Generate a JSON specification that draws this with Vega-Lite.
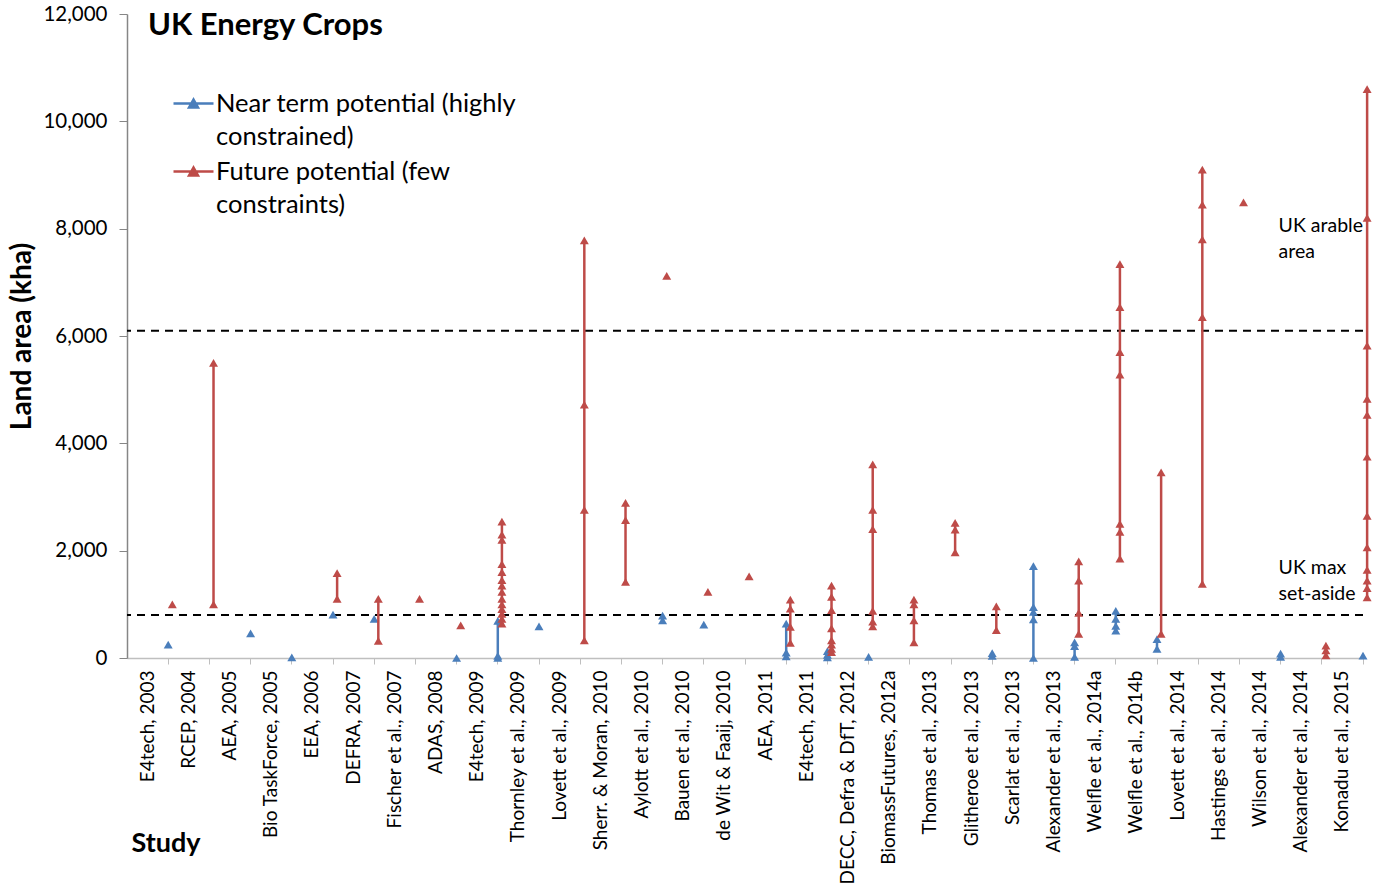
{
  "$schema": "https://vega.github.io/schema/vega-lite/v6.json",
  "width": 1236,
  "height": 644,
  "autosize": {"type": "none"},
  "padding": {"left": 127, "top": 14, "right": 21, "bottom": 229},
  "background": "white",
  "title": {"text": "UK Energy Crops", "anchor": "start", "frame": "group", "fontSize": 31, "fontWeight": "bold", "font": "Lato", "color": "#000", "offset": -38, "dx": 21},
  "config": {
    "font": "Lato",
    "numberFormat": ",d",
    "view": {"stroke": null},
    "axisX": {"bandPosition": 1, "labelAngle": -90, "labelFontSize": 19, "labelColor": "#000", "labelPadding": 6, "tickSize": 6, "tickColor": "#bfbfbf", "domainColor": "#bfbfbf", "domainWidth": 1.5, "labelLimit": 0, "labelOverlap": false, "titleFontSize": 27, "titleFontWeight": "bold", "titleColor": "#000", "titleAnchor": "start", "titleAlign": "left", "titleX": 4, "titleY": 185, "titleBaseline": "middle", "grid": false},
    "axisY": {"labelFontSize": 20.5, "labelColor": "#000", "labelPadding": 12, "tickSize": 8, "tickColor": "#868686", "domainColor": "#868686", "domainWidth": 1.5, "titleFontSize": 28, "titleFontWeight": "bold", "titleColor": "#000", "titleX": -105, "titleY": 322, "titleAngle": -90, "titleAlign": "center", "titleBaseline": "middle", "grid": false, "tickCount": 6},
    "legend": {
      "orient": "none", "legendX": 45, "legendY": 68,
      "symbolType": "M-1,0L1,0M-0.225,0.2L0,-0.2L0.225,0.2Z",
      "symbolSize": 1600, "symbolStrokeWidth": 2.5, "symbolOpacity": 1,
      "labelFontSize": 25.5, "labelFont": "Lato", "labelColor": "#000", "labelLimit": 0, "labelOffset": 1,
      "rowPadding": 0
    }
  },
  "datasets": {
    "pts": [
      {"study": "E4tech, 2003", "series": "Near", "value": 250},
      {"study": "AEA, 2005", "series": "Near", "value": 460},
      {"study": "Bio TaskForce, 2005", "series": "Near", "value": 10},
      {"study": "EEA, 2006", "series": "Near", "value": 810},
      {"study": "DEFRA, 2007", "series": "Near", "value": 730},
      {"study": "ADAS, 2008", "series": "Near", "value": 0},
      {"study": "E4tech, 2009", "series": "Near", "value": 0},
      {"study": "E4tech, 2009", "series": "Near", "value": 40},
      {"study": "E4tech, 2009", "series": "Near", "value": 690},
      {"study": "Thornley et al., 2009", "series": "Near", "value": 590},
      {"study": "Aylott et al., 2010", "series": "Near", "value": 700},
      {"study": "Aylott et al., 2010", "series": "Near", "value": 790},
      {"study": "Bauen et al., 2010", "series": "Near", "value": 620},
      {"study": "AEA, 2011", "series": "Near", "value": 30},
      {"study": "AEA, 2011", "series": "Near", "value": 100},
      {"study": "AEA, 2011", "series": "Near", "value": 640},
      {"study": "E4tech, 2011", "series": "Near", "value": 10},
      {"study": "E4tech, 2011", "series": "Near", "value": 60},
      {"study": "E4tech, 2011", "series": "Near", "value": 130},
      {"study": "DECC, Defra & DfT, 2012", "series": "Near", "value": 20},
      {"study": "Glitheroe et al., 2013", "series": "Near", "value": 40},
      {"study": "Glitheroe et al., 2013", "series": "Near", "value": 90},
      {"study": "Scarlat et al., 2013", "series": "Near", "value": 0},
      {"study": "Scarlat et al., 2013", "series": "Near", "value": 720},
      {"study": "Scarlat et al., 2013", "series": "Near", "value": 860},
      {"study": "Scarlat et al., 2013", "series": "Near", "value": 950},
      {"study": "Scarlat et al., 2013", "series": "Near", "value": 1710},
      {"study": "Alexander et al., 2013", "series": "Near", "value": 20},
      {"study": "Alexander et al., 2013", "series": "Near", "value": 220},
      {"study": "Alexander et al., 2013", "series": "Near", "value": 290},
      {"study": "Welfle et al., 2014a", "series": "Near", "value": 510},
      {"study": "Welfle et al., 2014a", "series": "Near", "value": 600},
      {"study": "Welfle et al., 2014a", "series": "Near", "value": 730},
      {"study": "Welfle et al., 2014a", "series": "Near", "value": 880},
      {"study": "Welfle et al., 2014b", "series": "Near", "value": 170},
      {"study": "Welfle et al., 2014b", "series": "Near", "value": 350},
      {"study": "Wilson et al., 2014", "series": "Near", "value": 20},
      {"study": "Wilson et al., 2014", "series": "Near", "value": 80},
      {"study": "Konadu et al., 2015", "series": "Near", "value": 45},
      {"study": "E4tech, 2003", "series": "Future", "value": 1000},
      {"study": "RCEP, 2004", "series": "Future", "value": 1000},
      {"study": "RCEP, 2004", "series": "Future", "value": 5500},
      {"study": "EEA, 2006", "series": "Future", "value": 1100},
      {"study": "EEA, 2006", "series": "Future", "value": 1580},
      {"study": "DEFRA, 2007", "series": "Future", "value": 320},
      {"study": "DEFRA, 2007", "series": "Future", "value": 1100},
      {"study": "Fischer et al., 2007", "series": "Future", "value": 1100},
      {"study": "ADAS, 2008", "series": "Future", "value": 610},
      {"study": "E4tech, 2009", "series": "Future", "value": 640},
      {"study": "E4tech, 2009", "series": "Future", "value": 730},
      {"study": "E4tech, 2009", "series": "Future", "value": 820},
      {"study": "E4tech, 2009", "series": "Future", "value": 910},
      {"study": "E4tech, 2009", "series": "Future", "value": 1000},
      {"study": "E4tech, 2009", "series": "Future", "value": 1100},
      {"study": "E4tech, 2009", "series": "Future", "value": 1230},
      {"study": "E4tech, 2009", "series": "Future", "value": 1350},
      {"study": "E4tech, 2009", "series": "Future", "value": 1450},
      {"study": "E4tech, 2009", "series": "Future", "value": 1600},
      {"study": "E4tech, 2009", "series": "Future", "value": 1750},
      {"study": "E4tech, 2009", "series": "Future", "value": 2200},
      {"study": "E4tech, 2009", "series": "Future", "value": 2300},
      {"study": "E4tech, 2009", "series": "Future", "value": 2540},
      {"study": "Lovett et al., 2009", "series": "Future", "value": 330},
      {"study": "Lovett et al., 2009", "series": "Future", "value": 2760},
      {"study": "Lovett et al., 2009", "series": "Future", "value": 4720},
      {"study": "Lovett et al., 2009", "series": "Future", "value": 7780},
      {"study": "Sherr. & Moran, 2010", "series": "Future", "value": 1420},
      {"study": "Sherr. & Moran, 2010", "series": "Future", "value": 2570},
      {"study": "Sherr. & Moran, 2010", "series": "Future", "value": 2890},
      {"study": "Aylott et al., 2010", "series": "Future", "value": 7120},
      {"study": "Bauen et al., 2010", "series": "Future", "value": 1230},
      {"study": "de Wit & Faaij, 2010", "series": "Future", "value": 1520},
      {"study": "AEA, 2011", "series": "Future", "value": 280},
      {"study": "AEA, 2011", "series": "Future", "value": 580},
      {"study": "AEA, 2011", "series": "Future", "value": 920},
      {"study": "AEA, 2011", "series": "Future", "value": 1090},
      {"study": "E4tech, 2011", "series": "Future", "value": 110},
      {"study": "E4tech, 2011", "series": "Future", "value": 170},
      {"study": "E4tech, 2011", "series": "Future", "value": 250},
      {"study": "E4tech, 2011", "series": "Future", "value": 330},
      {"study": "E4tech, 2011", "series": "Future", "value": 550},
      {"study": "E4tech, 2011", "series": "Future", "value": 890},
      {"study": "E4tech, 2011", "series": "Future", "value": 1140},
      {"study": "E4tech, 2011", "series": "Future", "value": 1350},
      {"study": "DECC, Defra & DfT, 2012", "series": "Future", "value": 590},
      {"study": "DECC, Defra & DfT, 2012", "series": "Future", "value": 680},
      {"study": "DECC, Defra & DfT, 2012", "series": "Future", "value": 880},
      {"study": "DECC, Defra & DfT, 2012", "series": "Future", "value": 2400},
      {"study": "DECC, Defra & DfT, 2012", "series": "Future", "value": 2760},
      {"study": "DECC, Defra & DfT, 2012", "series": "Future", "value": 3610},
      {"study": "BiomassFutures, 2012a", "series": "Future", "value": 290},
      {"study": "BiomassFutures, 2012a", "series": "Future", "value": 700},
      {"study": "BiomassFutures, 2012a", "series": "Future", "value": 1000},
      {"study": "BiomassFutures, 2012a", "series": "Future", "value": 1090},
      {"study": "Thomas et al., 2013", "series": "Future", "value": 1970},
      {"study": "Thomas et al., 2013", "series": "Future", "value": 2390},
      {"study": "Thomas et al., 2013", "series": "Future", "value": 2520},
      {"study": "Glitheroe et al., 2013", "series": "Future", "value": 520},
      {"study": "Glitheroe et al., 2013", "series": "Future", "value": 960},
      {"study": "Alexander et al., 2013", "series": "Future", "value": 450},
      {"study": "Alexander et al., 2013", "series": "Future", "value": 840},
      {"study": "Alexander et al., 2013", "series": "Future", "value": 1440},
      {"study": "Alexander et al., 2013", "series": "Future", "value": 1800},
      {"study": "Welfle et al., 2014a", "series": "Future", "value": 1850},
      {"study": "Welfle et al., 2014a", "series": "Future", "value": 2350},
      {"study": "Welfle et al., 2014a", "series": "Future", "value": 2500},
      {"study": "Welfle et al., 2014a", "series": "Future", "value": 5280},
      {"study": "Welfle et al., 2014a", "series": "Future", "value": 5700},
      {"study": "Welfle et al., 2014a", "series": "Future", "value": 6540},
      {"study": "Welfle et al., 2014a", "series": "Future", "value": 7340},
      {"study": "Welfle et al., 2014b", "series": "Future", "value": 450},
      {"study": "Welfle et al., 2014b", "series": "Future", "value": 3460},
      {"study": "Lovett et al., 2014", "series": "Future", "value": 1380},
      {"study": "Lovett et al., 2014", "series": "Future", "value": 6350},
      {"study": "Lovett et al., 2014", "series": "Future", "value": 7800},
      {"study": "Lovett et al., 2014", "series": "Future", "value": 8450},
      {"study": "Lovett et al., 2014", "series": "Future", "value": 9100},
      {"study": "Hastings et al., 2014", "series": "Future", "value": 8490},
      {"study": "Alexander et al., 2014", "series": "Future", "value": 50},
      {"study": "Alexander et al., 2014", "series": "Future", "value": 140},
      {"study": "Alexander et al., 2014", "series": "Future", "value": 230},
      {"study": "Konadu et al., 2015", "series": "Future", "value": 1130},
      {"study": "Konadu et al., 2015", "series": "Future", "value": 1300},
      {"study": "Konadu et al., 2015", "series": "Future", "value": 1440},
      {"study": "Konadu et al., 2015", "series": "Future", "value": 1640},
      {"study": "Konadu et al., 2015", "series": "Future", "value": 2060},
      {"study": "Konadu et al., 2015", "series": "Future", "value": 2650},
      {"study": "Konadu et al., 2015", "series": "Future", "value": 3750},
      {"study": "Konadu et al., 2015", "series": "Future", "value": 4530},
      {"study": "Konadu et al., 2015", "series": "Future", "value": 4830},
      {"study": "Konadu et al., 2015", "series": "Future", "value": 5820},
      {"study": "Konadu et al., 2015", "series": "Future", "value": 8200},
      {"study": "Konadu et al., 2015", "series": "Future", "value": 10600}
    ],
    "refs": [
      {"name": "UK arable area", "value": 6100},
      {"name": "UK max set-aside", "value": 800}
    ],
    "notes": [
      {"study": "Wilson et al., 2014", "note": "UK arable", "value": 8050},
      {"study": "Wilson et al., 2014", "note": "area", "value": 7565},
      {"study": "Wilson et al., 2014", "note": "UK max", "value": 1677},
      {"study": "Wilson et al., 2014", "note": "set-aside", "value": 1193}
    ]
  },
  "layer": [
    {
      "data": {"name": "refs"},
      "mark": {"type": "rule", "color": "#000", "strokeWidth": 2, "strokeDash": [8, 6]},
      "encoding": {
        "y": {"field": "value", "type": "quantitative", "title": "Land area (kha)", "scale": {"domain": [0, 12000], "nice": false}}
      }
    },
    {
      "data": {"name": "pts"},
      "transform": [{"filter": "datum.series == 'Near'"}],
      "mark": {"type": "rule", "strokeWidth": 2.5},
      "encoding": {
        "x": {"field": "study", "type": "nominal", "title": "Study", "bandPosition": 1, "sort": null, "scale": {"type": "band", "paddingInner": 0, "paddingOuter": 0, "domain": ["E4tech, 2003","RCEP, 2004","AEA, 2005","Bio TaskForce, 2005","EEA, 2006","DEFRA, 2007","Fischer et al., 2007","ADAS, 2008","E4tech, 2009","Thornley et al., 2009","Lovett et al., 2009","Sherr. & Moran, 2010","Aylott et al., 2010","Bauen et al., 2010","de Wit & Faaij, 2010","AEA, 2011","E4tech, 2011","DECC, Defra & DfT, 2012","BiomassFutures, 2012a","Thomas et al., 2013","Glitheroe et al., 2013","Scarlat et al., 2013","Alexander et al., 2013","Welfle et al., 2014a","Welfle et al., 2014b","Lovett et al., 2014","Hastings et al., 2014","Wilson et al., 2014","Alexander et al., 2014","Konadu et al., 2015"]}},
        "y": {"aggregate": "min", "field": "value", "type": "quantitative", "title": "Land area (kha)"},
        "y2": {"aggregate": "max", "field": "value"},
        "color": {"field": "series", "type": "nominal", "title": null, "scale": {"domain": ["Near", "Future"], "range": ["#4A7EBB", "#BE4B48"]},
          "legend": {"title": null, "labelExpr": "datum.label == 'Near' ? ['Near term potential (highly', 'constrained)'] : ['Future  potential (few', 'constraints)']",
            "encode": {"symbols": {"update": {"fill": {"scale": "color", "field": "value"}, "stroke": {"scale": "color", "field": "value"}}}, "labels": {"update": {"lineHeight": {"value": 33}}}}}}
      }
    },
    {
      "data": {"name": "pts"},
      "transform": [{"filter": "datum.series == 'Near'"}],
      "mark": {"type": "point", "shape": "triangle-up", "filled": true, "size": 80, "opacity": 1},
      "encoding": {
        "x": {"field": "study", "type": "nominal", "title": "Study", "bandPosition": 1},
        "y": {"field": "value", "type": "quantitative", "title": "Land area (kha)"},
        "color": {"field": "series", "type": "nominal", "title": null,
          "legend": {"title": null, "labelExpr": "datum.label == 'Near' ? ['Near term potential (highly', 'constrained)'] : ['Future  potential (few', 'constraints)']",
            "encode": {"symbols": {"update": {"fill": {"scale": "color", "field": "value"}, "stroke": {"scale": "color", "field": "value"}}}, "labels": {"update": {"lineHeight": {"value": 33}}}}}}
      }
    },
    {
      "data": {"name": "pts"},
      "transform": [{"filter": "datum.series == 'Future'"}],
      "mark": {"type": "rule", "strokeWidth": 2.5},
      "encoding": {
        "x": {"field": "study", "type": "nominal", "title": "Study", "bandPosition": 1.1},
        "y": {"aggregate": "min", "field": "value", "type": "quantitative", "title": "Land area (kha)"},
        "y2": {"aggregate": "max", "field": "value"},
        "color": {"field": "series", "type": "nominal", "title": null,
          "legend": {"title": null, "labelExpr": "datum.label == 'Near' ? ['Near term potential (highly', 'constrained)'] : ['Future  potential (few', 'constraints)']",
            "encode": {"symbols": {"update": {"fill": {"scale": "color", "field": "value"}, "stroke": {"scale": "color", "field": "value"}}}, "labels": {"update": {"lineHeight": {"value": 33}}}}}}
      }
    },
    {
      "data": {"name": "pts"},
      "transform": [{"filter": "datum.series == 'Future'"}],
      "mark": {"type": "point", "shape": "triangle-up", "filled": true, "size": 80, "opacity": 1},
      "encoding": {
        "x": {"field": "study", "type": "nominal", "title": "Study", "bandPosition": 1.1},
        "y": {"field": "value", "type": "quantitative", "title": "Land area (kha)"},
        "color": {"field": "series", "type": "nominal", "title": null,
          "legend": {"title": null, "labelExpr": "datum.label == 'Near' ? ['Near term potential (highly', 'constrained)'] : ['Future  potential (few', 'constraints)']",
            "encode": {"symbols": {"update": {"fill": {"scale": "color", "field": "value"}, "stroke": {"scale": "color", "field": "value"}}}, "labels": {"update": {"lineHeight": {"value": 33}}}}}}
      }
    },
    {
      "data": {"name": "notes"},
      "mark": {"type": "text", "align": "left", "baseline": "middle", "dx": -2, "fontSize": 19.5, "font": "Lato", "color": "#000"},
      "encoding": {
        "x": {"field": "study", "type": "nominal", "title": "Study", "bandPosition": 1},
        "y": {"field": "value", "type": "quantitative", "title": "Land area (kha)"},
        "text": {"field": "note"}
      }
    }
  ]
}
